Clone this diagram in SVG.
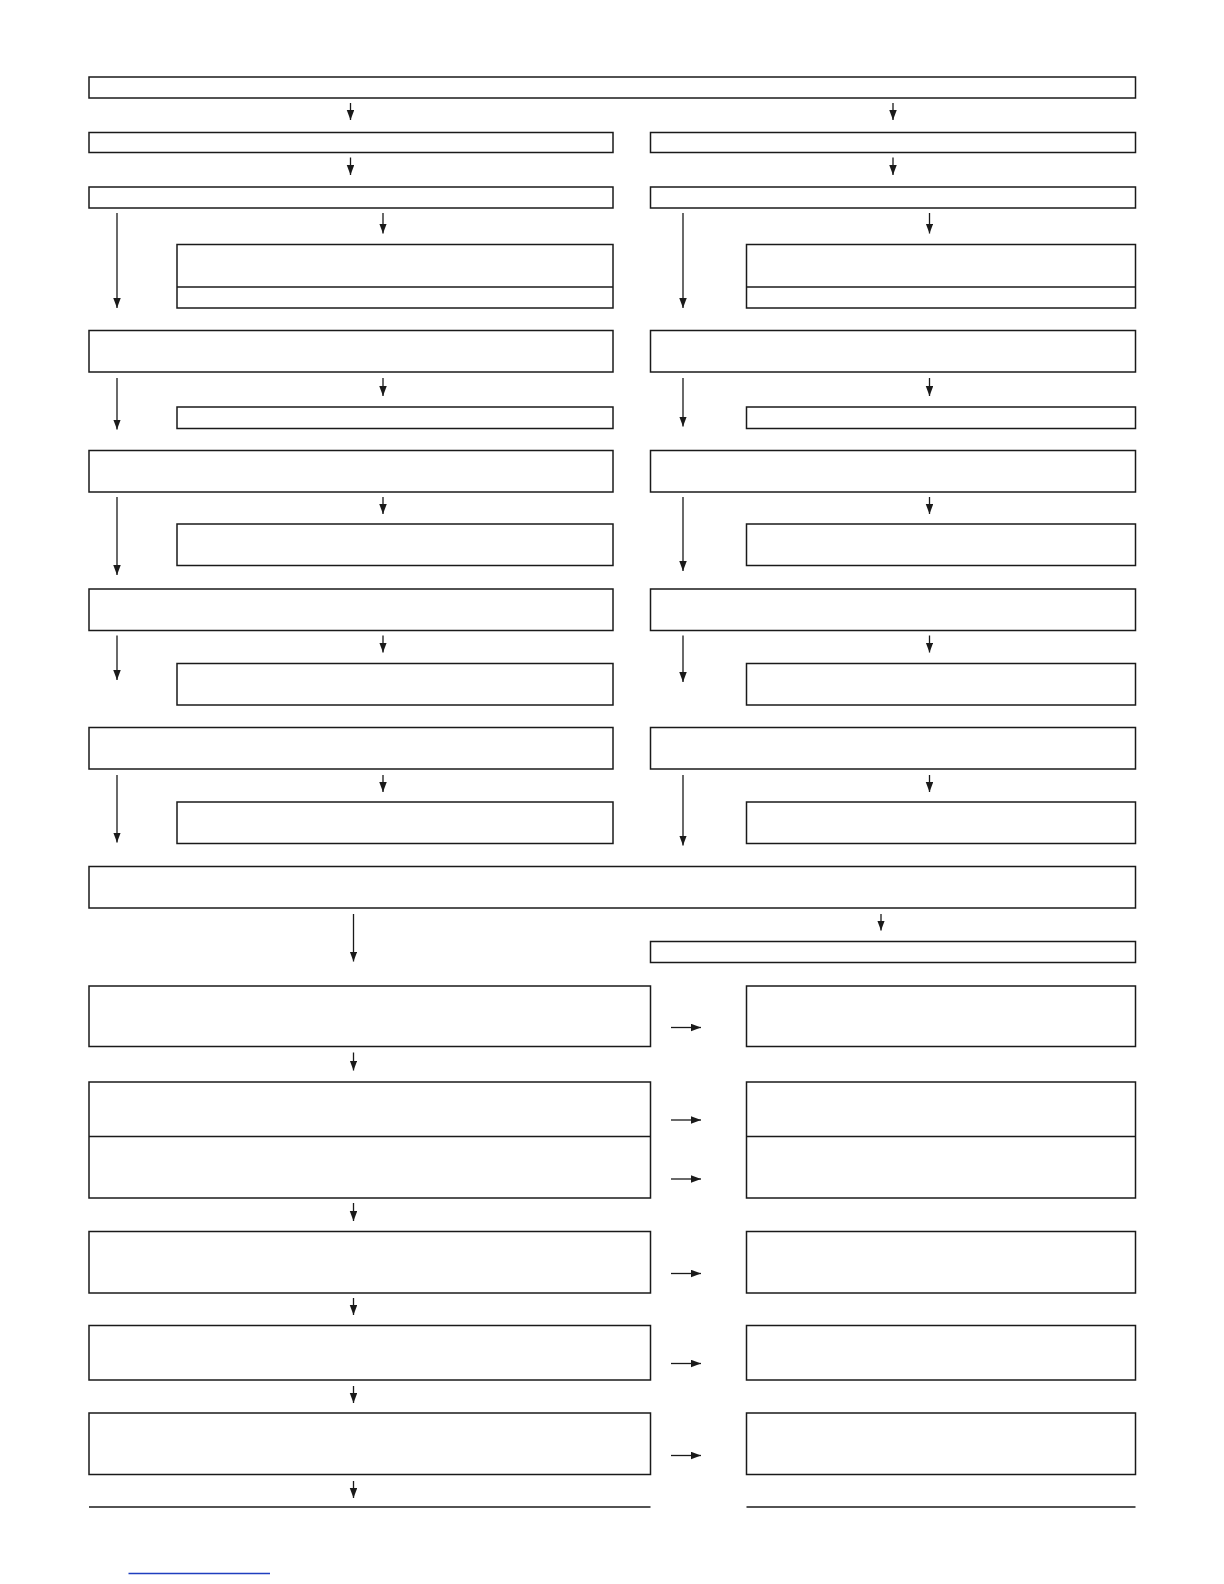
<svg xmlns="http://www.w3.org/2000/svg" width="1224" height="1584" viewBox="0 0 1224 1584">
<style>
.n{fill:#fff;stroke:#1a1a1a;stroke-width:1.5}
.d{stroke:#1a1a1a;stroke-width:1.5;fill:none}
.c{stroke:#1a1a1a;stroke-width:1.3;fill:none;marker-end:url(#ah)}
</style>
<defs>
<marker id="ah" markerUnits="userSpaceOnUse" markerWidth="11" markerHeight="8" refX="10" refY="3.75" orient="auto">
<path d="M0,0 L10,3.75 L0,7.5 z" fill="#1a1a1a"/>
</marker>
</defs>
<rect width="1224" height="1584" fill="#fff"/>
<g id="n0"><rect class="n" x="89" y="77" width="1046.5" height="21"/></g>
<g id="nL1"><rect class="n" x="89" y="132.5" width="524" height="20"/></g>
<g id="nR1"><rect class="n" x="650.5" y="132.5" width="485" height="20"/></g>
<g id="nL2"><rect class="n" x="89" y="187" width="524" height="21"/></g>
<g id="nR2"><rect class="n" x="650.5" y="187" width="485" height="21"/></g>
<g id="nL3"><rect class="n" x="177" y="244.5" width="436" height="63.5"/><line class="d" x1="177" y1="287" x2="613" y2="287"/></g>
<g id="nR3"><rect class="n" x="746.5" y="244.5" width="389" height="63.5"/><line class="d" x1="746.5" y1="287" x2="1135.5" y2="287"/></g>
<g id="nL4"><rect class="n" x="89" y="330.5" width="524" height="41.5"/></g>
<g id="nR4"><rect class="n" x="650.5" y="330.5" width="485" height="41.5"/></g>
<g id="nL5"><rect class="n" x="177" y="407" width="436" height="21.5"/></g>
<g id="nR5"><rect class="n" x="746.5" y="407" width="389" height="21.5"/></g>
<g id="nL6"><rect class="n" x="89" y="450.5" width="524" height="41.5"/></g>
<g id="nR6"><rect class="n" x="650.5" y="450.5" width="485" height="41.5"/></g>
<g id="nL7"><rect class="n" x="177" y="524" width="436" height="41.5"/></g>
<g id="nR7"><rect class="n" x="746.5" y="524" width="389" height="41.5"/></g>
<g id="nL8"><rect class="n" x="89" y="589" width="524" height="41.5"/></g>
<g id="nR8"><rect class="n" x="650.5" y="589" width="485" height="41.5"/></g>
<g id="nL9"><rect class="n" x="177" y="663.5" width="436" height="41.5"/></g>
<g id="nR9"><rect class="n" x="746.5" y="663.5" width="389" height="41.5"/></g>
<g id="nL10"><rect class="n" x="89" y="727.5" width="524" height="41.5"/></g>
<g id="nR10"><rect class="n" x="650.5" y="727.5" width="485" height="41.5"/></g>
<g id="nL11"><rect class="n" x="177" y="802" width="436" height="41.5"/></g>
<g id="nR11"><rect class="n" x="746.5" y="802" width="389" height="41.5"/></g>
<g id="n12"><rect class="n" x="89" y="866.5" width="1046.5" height="41.5"/></g>
<g id="nR13"><rect class="n" x="650.5" y="941.5" width="485" height="21"/></g>
<g id="nL14"><rect class="n" x="89" y="986" width="561.5" height="60.5"/></g>
<g id="nR14"><rect class="n" x="746.5" y="986" width="389" height="60.5"/></g>
<g id="nL15"><rect class="n" x="89" y="1082" width="561.5" height="116"/><line class="d" x1="89" y1="1136.5" x2="650.5" y2="1136.5"/></g>
<g id="nR15"><rect class="n" x="746.5" y="1082" width="389" height="116"/><line class="d" x1="746.5" y1="1136.5" x2="1135.5" y2="1136.5"/></g>
<g id="nL16"><rect class="n" x="89" y="1231.5" width="561.5" height="61.5"/></g>
<g id="nR16"><rect class="n" x="746.5" y="1231.5" width="389" height="61.5"/></g>
<g id="nL17"><rect class="n" x="89" y="1325.5" width="561.5" height="54.5"/></g>
<g id="nR17"><rect class="n" x="746.5" y="1325.5" width="389" height="54.5"/></g>
<g id="nL18"><rect class="n" x="89" y="1413" width="561.5" height="61.5"/></g>
<g id="nR18"><rect class="n" x="746.5" y="1413" width="389" height="61.5"/></g>
<g id="footer">
<line class="d" x1="89" y1="1507" x2="650.5" y2="1507"/>
<line class="d" x1="746.5" y1="1507" x2="1135.5" y2="1507"/>
<line x1="128.5" y1="1573.5" x2="270" y2="1573.5" stroke="#1f3fbf" stroke-width="1.4"/>
</g>
<g id="connectors">
<path class="c" d="M350.5,103 V120"/>
<path class="c" d="M893,103 V120"/>
<path class="c" d="M350.5,157.5 V175"/>
<path class="c" d="M893,157.5 V175"/>
<path class="c" d="M117,213 V308"/>
<path class="c" d="M383,213 V233.5"/>
<path class="c" d="M683,213 V308"/>
<path class="c" d="M929.5,213 V233.5"/>
<path class="c" d="M117,378 V429.5"/>
<path class="c" d="M383,378 V396"/>
<path class="c" d="M683,378 V426.5"/>
<path class="c" d="M929.5,378 V396"/>
<path class="c" d="M117,497 V575"/>
<path class="c" d="M383,497 V514"/>
<path class="c" d="M683,497 V571"/>
<path class="c" d="M929.5,497 V514"/>
<path class="c" d="M117,635.5 V680"/>
<path class="c" d="M383,635.5 V652.5"/>
<path class="c" d="M683,635.5 V682"/>
<path class="c" d="M929.5,635.5 V652.5"/>
<path class="c" d="M117,775 V842.5"/>
<path class="c" d="M383,775 V792"/>
<path class="c" d="M683,775 V845.5"/>
<path class="c" d="M929.5,775 V792"/>
<path class="c" d="M353.5,914 V961.5"/>
<path class="c" d="M881,914 V930.5"/>
<path class="c" d="M671,1027.5 H701"/>
<path class="c" d="M353.5,1052.5 V1070.5"/>
<path class="c" d="M671,1120 H701"/>
<path class="c" d="M671,1179 H701"/>
<path class="c" d="M353.5,1203 V1221"/>
<path class="c" d="M671,1273.5 H701"/>
<path class="c" d="M353.5,1298 V1315"/>
<path class="c" d="M671,1363.5 H701"/>
<path class="c" d="M353.5,1386 V1403"/>
<path class="c" d="M671,1455.5 H701"/>
<path class="c" d="M353.5,1481 V1498"/>
</g>
</svg>
